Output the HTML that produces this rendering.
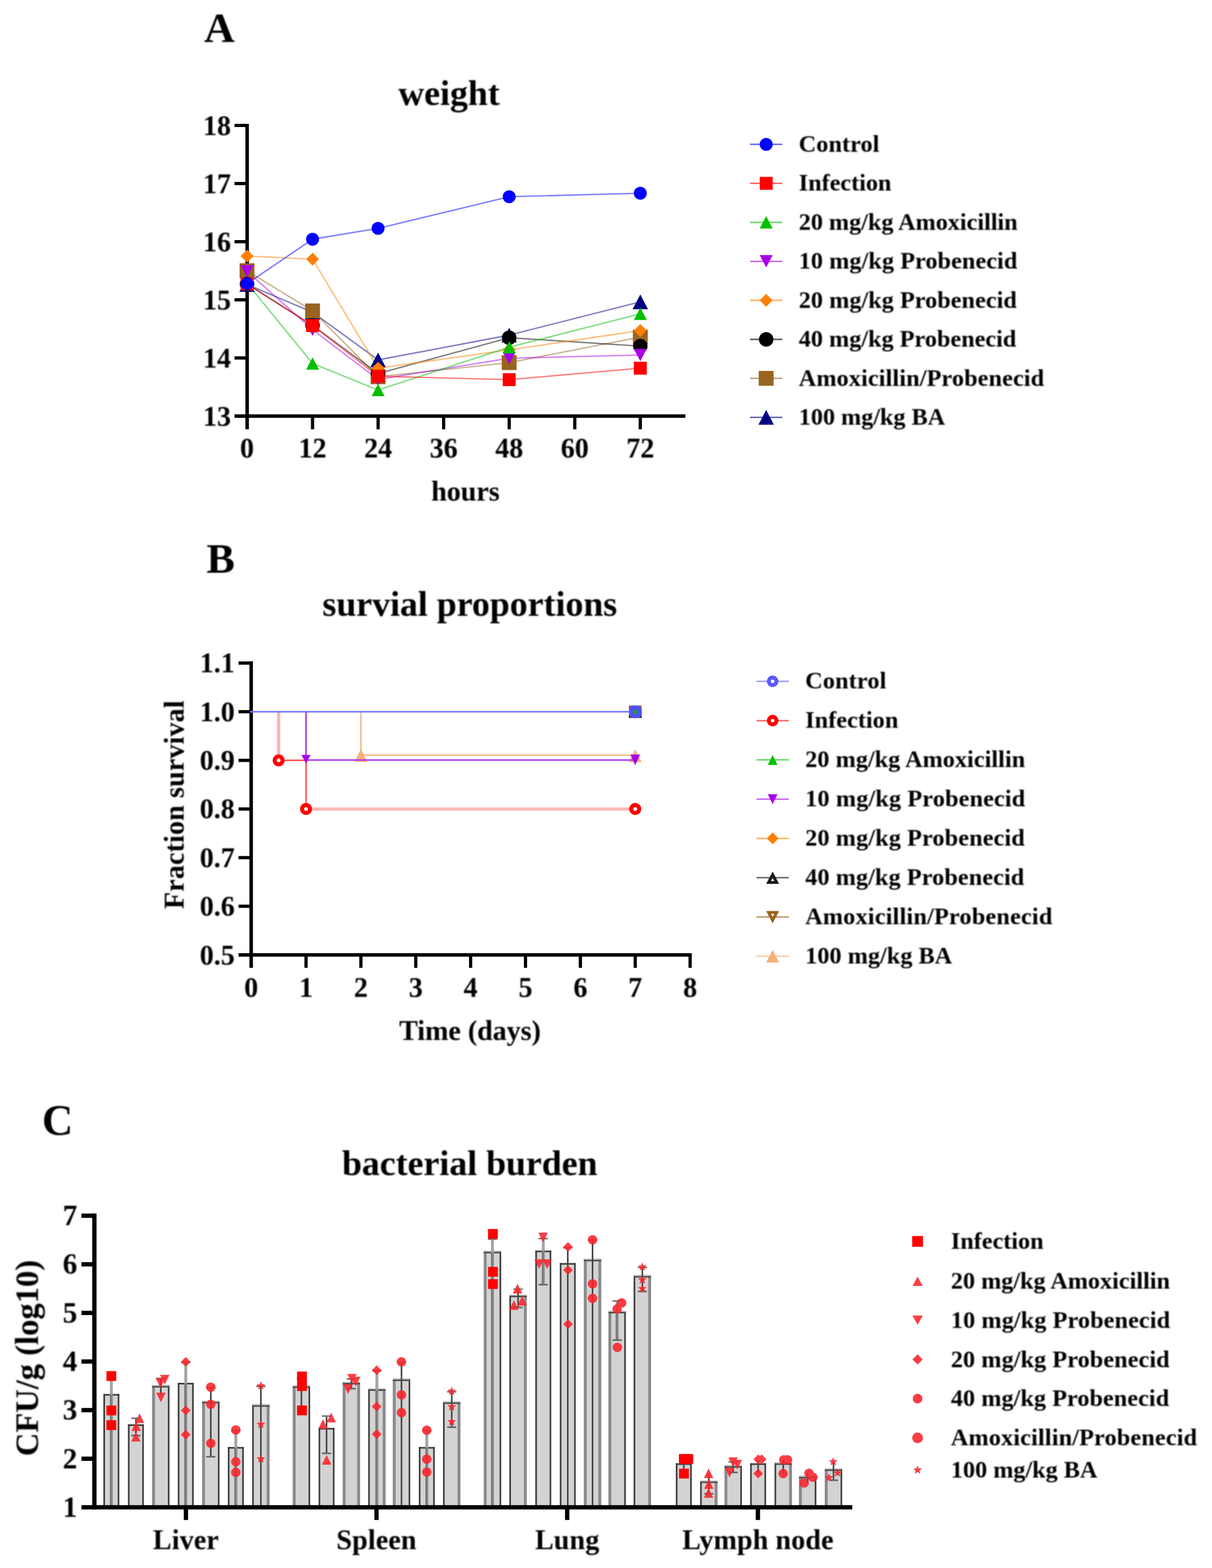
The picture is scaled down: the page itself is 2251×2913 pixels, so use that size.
<!DOCTYPE html>
<html lang="en"><head><meta charset="utf-8"><title>Figure</title>
<style>html,body{margin:0;padding:0;background:#fff}body{width:2251px;height:2913px;overflow:hidden}svg{display:block}text{font-family:"Liberation Serif", "Times New Roman", serif;font-weight:bold;fill:#000}</style></head><body>
<svg width="2251" height="2913" viewBox="0 0 2251 2913" role="img" aria-label="Figure with panels A, B and C">
<defs><filter id="softT" x="0" y="0" width="2251" height="2913" filterUnits="userSpaceOnUse"><feGaussianBlur stdDeviation="0.9"/></filter></defs>
<rect width="2251" height="2913" fill="#fff"/>
<g id="shapes">
<g id="panelA">
<line x1="459" y1="230" x2="459" y2="797.5" stroke="#000" stroke-width="6.5"/>
<line x1="435.5" y1="773" x2="1273" y2="773" stroke="#000" stroke-width="6.5"/>
<line x1="435.5" y1="233" x2="459" y2="233" stroke="#000" stroke-width="6"/>
<line x1="435.5" y1="341" x2="459" y2="341" stroke="#000" stroke-width="6"/>
<line x1="435.5" y1="449" x2="459" y2="449" stroke="#000" stroke-width="6"/>
<line x1="435.5" y1="557" x2="459" y2="557" stroke="#000" stroke-width="6"/>
<line x1="435.5" y1="665" x2="459" y2="665" stroke="#000" stroke-width="6"/>
<line x1="580.5" y1="773" x2="580.5" y2="797.5" stroke="#000" stroke-width="6"/>
<line x1="702.3" y1="773" x2="702.3" y2="797.5" stroke="#000" stroke-width="6"/>
<line x1="824" y1="773" x2="824" y2="797.5" stroke="#000" stroke-width="6"/>
<line x1="945.7" y1="773" x2="945.7" y2="797.5" stroke="#000" stroke-width="6"/>
<line x1="1067.5" y1="773" x2="1067.5" y2="797.5" stroke="#000" stroke-width="6"/>
<line x1="1189.2" y1="773" x2="1189.2" y2="797.5" stroke="#000" stroke-width="6"/>
<polyline points="458.8,528.5 580.5,580 702.2,668.6 945.7,622.6 1189.2,560.8" fill="none" stroke="#000080" stroke-width="2.6" stroke-linejoin="round" stroke-opacity="0.5"/>
<polyline points="458.8,503 580.5,577.6 702.2,700 945.7,673.7 1189.2,626.2" fill="none" stroke="#996420" stroke-width="2.6" stroke-linejoin="round" stroke-opacity="0.5"/>
<polyline points="458.8,527.5 580.5,604.5 702.2,694 945.7,627.4 1189.2,643" fill="none" stroke="#000000" stroke-width="2.6" stroke-linejoin="round" stroke-opacity="0.5"/>
<polyline points="458.8,475.7 580.5,481.5 702.2,684 945.7,650 1189.2,614.1" fill="none" stroke="#ff8000" stroke-width="2.6" stroke-linejoin="round" stroke-opacity="0.5"/>
<polyline points="458.8,504 580.5,612.5 702.2,705 945.7,665.5 1189.2,659.5" fill="none" stroke="#aa00e6" stroke-width="2.6" stroke-linejoin="round" stroke-opacity="0.5"/>
<polyline points="458.8,526 580.5,675.3 702.2,724.6 945.7,645 1189.2,582.9" fill="none" stroke="#00c000" stroke-width="2.6" stroke-linejoin="round" stroke-opacity="0.5"/>
<polyline points="458.8,527.5 580.5,604.8 702.2,699 945.7,705.3 1189.2,684" fill="none" stroke="#ff0000" stroke-width="2.6" stroke-linejoin="round" stroke-opacity="0.5"/>
<polyline points="458.8,527.1 580.5,444.4 702.2,424.3 945.7,365.5 1189.2,359" fill="none" stroke="#0000ff" stroke-width="2.6" stroke-linejoin="round" stroke-opacity="0.5"/>
<polygon points="458.8,514.8 473.1,542.2 444.5,542.2" fill="#000080"/>
<polygon points="580.5,566.3 594.8,593.7 566.2,593.7" fill="#000080"/>
<polygon points="702.2,654.9 716.5,682.3 687.9,682.3" fill="#000080"/>
<polygon points="945.7,608.9 960,636.3 931.4,636.3" fill="#000080"/>
<polygon points="1189.2,547.1 1203.5,574.5 1174.9,574.5" fill="#000080"/>
<rect x="445" y="489.2" width="27.6" height="27.6" fill="#996420"/>
<rect x="566.7" y="563.8" width="27.6" height="27.6" fill="#996420"/>
<rect x="688.4" y="686.2" width="27.6" height="27.6" fill="#996420"/>
<rect x="931.9" y="659.9" width="27.6" height="27.6" fill="#996420"/>
<rect x="1175.4" y="612.4" width="27.6" height="27.6" fill="#996420"/>
<circle cx="458.8" cy="527.5" r="13.5" fill="#000000"/>
<circle cx="580.5" cy="604.5" r="13.5" fill="#000000"/>
<circle cx="702.2" cy="694" r="13.5" fill="#000000"/>
<circle cx="945.7" cy="627.4" r="13.5" fill="#000000"/>
<circle cx="1189.2" cy="643" r="13.5" fill="#000000"/>
<polygon points="458.8,463.7 470.8,475.7 458.8,487.7 446.8,475.7" fill="#ff8000"/>
<polygon points="580.5,469.5 592.5,481.5 580.5,493.5 568.5,481.5" fill="#ff8000"/>
<polygon points="702.2,672 714.2,684 702.2,696 690.2,684" fill="#ff8000"/>
<polygon points="945.7,638 957.7,650 945.7,662 933.7,650" fill="#ff8000"/>
<polygon points="1189.2,602.1 1201.2,614.1 1189.2,626.1 1177.2,614.1" fill="#ff8000"/>
<polygon points="446.8,492.5 470.8,492.5 458.8,515.5" fill="#aa00e6"/>
<polygon points="568.5,601 592.5,601 580.5,624" fill="#aa00e6"/>
<polygon points="690.2,693.5 714.2,693.5 702.2,716.5" fill="#aa00e6"/>
<polygon points="933.7,654 957.7,654 945.7,677" fill="#aa00e6"/>
<polygon points="1177.2,648 1201.2,648 1189.2,671" fill="#aa00e6"/>
<polygon points="458.8,514.5 470.8,537.5 446.8,537.5" fill="#00c000"/>
<polygon points="580.5,663.8 592.5,686.8 568.5,686.8" fill="#00c000"/>
<polygon points="702.2,713.1 714.2,736.1 690.2,736.1" fill="#00c000"/>
<polygon points="945.7,633.5 957.7,656.5 933.7,656.5" fill="#00c000"/>
<polygon points="1189.2,571.4 1201.2,594.4 1177.2,594.4" fill="#00c000"/>
<rect x="446.8" y="515.5" width="24" height="24" fill="#ff0000"/>
<rect x="568.5" y="592.8" width="24" height="24" fill="#ff0000"/>
<rect x="690.2" y="687" width="24" height="24" fill="#ff0000"/>
<rect x="933.7" y="693.3" width="24" height="24" fill="#ff0000"/>
<rect x="1177.2" y="672" width="24" height="24" fill="#ff0000"/>
<circle cx="458.8" cy="527.1" r="12" fill="#0000ff"/>
<circle cx="580.5" cy="444.4" r="12" fill="#0000ff"/>
<circle cx="702.2" cy="424.3" r="12" fill="#0000ff"/>
<circle cx="945.7" cy="365.5" r="12" fill="#0000ff"/>
<circle cx="1189.2" cy="359" r="12" fill="#0000ff"/>
<line x1="1393" y1="268.2" x2="1453" y2="268.2" stroke="#0000ff" stroke-width="2.8" stroke-opacity="0.6"/>
<circle cx="1423" cy="268.2" r="12" fill="#0000ff"/>
<line x1="1393" y1="340.6" x2="1453" y2="340.6" stroke="#ff0000" stroke-width="2.8" stroke-opacity="0.6"/>
<rect x="1411" y="328.6" width="24" height="24" fill="#ff0000"/>
<line x1="1393" y1="413.1" x2="1453" y2="413.1" stroke="#00c000" stroke-width="2.8" stroke-opacity="0.6"/>
<polygon points="1423,401.6 1435,424.6 1411,424.6" fill="#00c000"/>
<line x1="1393" y1="485.6" x2="1453" y2="485.6" stroke="#aa00e6" stroke-width="2.8" stroke-opacity="0.6"/>
<polygon points="1411,474 1435,474 1423,497.1" fill="#aa00e6"/>
<line x1="1393" y1="558" x2="1453" y2="558" stroke="#ff8000" stroke-width="2.8" stroke-opacity="0.6"/>
<polygon points="1423,546 1435,558 1423,570 1411,558" fill="#ff8000"/>
<line x1="1393" y1="630.5" x2="1453" y2="630.5" stroke="#000000" stroke-width="2.8" stroke-opacity="0.6"/>
<circle cx="1423" cy="630.5" r="13.5" fill="#000000"/>
<line x1="1393" y1="702.9" x2="1453" y2="702.9" stroke="#996420" stroke-width="2.8" stroke-opacity="0.6"/>
<rect x="1409.2" y="689.1" width="27.6" height="27.6" fill="#996420"/>
<line x1="1393" y1="775.4" x2="1453" y2="775.4" stroke="#000080" stroke-width="2.8" stroke-opacity="0.6"/>
<polygon points="1423,761.6 1437.3,789.1 1408.7,789.1" fill="#000080"/>
</g>
<g id="panelB">
<line x1="466.5" y1="1228.5" x2="466.5" y2="1798" stroke="#000" stroke-width="6.5"/>
<line x1="443" y1="1774" x2="1284.7" y2="1774" stroke="#000" stroke-width="6.5"/>
<line x1="443" y1="1231.8" x2="466.5" y2="1231.8" stroke="#000" stroke-width="6"/>
<line x1="443" y1="1322.2" x2="466.5" y2="1322.2" stroke="#000" stroke-width="6"/>
<line x1="443" y1="1412.6" x2="466.5" y2="1412.6" stroke="#000" stroke-width="6"/>
<line x1="443" y1="1502.9" x2="466.5" y2="1502.9" stroke="#000" stroke-width="6"/>
<line x1="443" y1="1593.3" x2="466.5" y2="1593.3" stroke="#000" stroke-width="6"/>
<line x1="443" y1="1683.6" x2="466.5" y2="1683.6" stroke="#000" stroke-width="6"/>
<line x1="568.4" y1="1774" x2="568.4" y2="1798" stroke="#000" stroke-width="6"/>
<line x1="670.3" y1="1774" x2="670.3" y2="1798" stroke="#000" stroke-width="6"/>
<line x1="772.2" y1="1774" x2="772.2" y2="1798" stroke="#000" stroke-width="6"/>
<line x1="874.1" y1="1774" x2="874.1" y2="1798" stroke="#000" stroke-width="6"/>
<line x1="976" y1="1774" x2="976" y2="1798" stroke="#000" stroke-width="6"/>
<line x1="1077.9" y1="1774" x2="1077.9" y2="1798" stroke="#000" stroke-width="6"/>
<line x1="1179.8" y1="1774" x2="1179.8" y2="1798" stroke="#000" stroke-width="6"/>
<line x1="1281.7" y1="1774" x2="1281.7" y2="1798" stroke="#000" stroke-width="6"/>
<polyline points="670.3,1322.2 670.3,1403 1179.8,1403" fill="none" stroke="#f2b27c" stroke-width="3" stroke-linejoin="round" stroke-opacity="0.85"/>
<polygon points="670.3,1391.5 682.3,1415.5 658.3,1415.5" fill="#f2b27c"/>
<polygon points="1179.8,1392 1191.8,1416 1167.8,1416" fill="#f2b27c"/>
<line x1="517.5" y1="1322.2" x2="517.5" y2="1412.6" stroke="#ffb4b4" stroke-width="6"/>
<line x1="517.5" y1="1412.6" x2="568.4" y2="1412.6" stroke="#ff5a5a" stroke-width="3"/>
<line x1="568.4" y1="1412.6" x2="568.4" y2="1502.9" stroke="#ff5a5a" stroke-width="3"/>
<line x1="568.4" y1="1502.9" x2="1179.8" y2="1502.9" stroke="#ffb8b8" stroke-width="6"/>
<polyline points="568.4,1322.2 568.4,1412 1179.8,1412" fill="none" stroke="#b03cec" stroke-width="3" stroke-linejoin="round"/>
<polygon points="559.9,1402.5 576.9,1402.5 568.4,1418.5" fill="#aa00e6"/>
<polygon points="1170.8,1401.8 1188.8,1401.8 1179.8,1421.8" fill="#aa00e6"/>
<circle cx="517.5" cy="1412.6" r="7.3" fill="#fff" stroke="#ff0000" stroke-width="7.6"/>
<circle cx="568.4" cy="1502.9" r="7.3" fill="#fff" stroke="#ff0000" stroke-width="7.6"/>
<circle cx="1179.8" cy="1502.9" r="7.3" fill="#fff" stroke="#ff0000" stroke-width="7.6"/>
<polygon points="1179.8,1309.2 1193.3,1322.7 1179.8,1336.2 1166.3,1322.7" fill="#f6c9a0"/>
<rect x="1168" y="1310.7" width="23.6" height="11.5" fill="#996420"/>
<rect x="1168" y="1322.2" width="23.6" height="11.5" fill="#101010"/>
<rect x="1168" y="1311.9" width="23.6" height="21" rx="6" fill="#5252f0"/>
<rect x="1170.8" y="1310.7" width="18" height="23" rx="4" fill="#5252f0"/>
<circle cx="1179.8" cy="1322.7" r="3.6" fill="#10a830"/>
<line x1="464.5" y1="1322.2" x2="1169.8" y2="1322.2" stroke="#7878ff" stroke-width="3"/>
<line x1="1405" y1="1265.8" x2="1465" y2="1265.8" stroke="#5a5aff" stroke-width="2.8" stroke-opacity="0.6"/>
<circle cx="1435" cy="1265.8" r="7" fill="#fff" stroke="#5a5aff" stroke-width="7.4"/>
<line x1="1405" y1="1338.8" x2="1465" y2="1338.8" stroke="#ff0000" stroke-width="2.8" stroke-opacity="0.6"/>
<circle cx="1435" cy="1338.8" r="7" fill="#fff" stroke="#ff0000" stroke-width="7.4"/>
<line x1="1405" y1="1411.7" x2="1465" y2="1411.7" stroke="#00c000" stroke-width="2.8" stroke-opacity="0.6"/>
<polygon points="1435,1402.5 1444,1421 1426,1421" fill="#00c000"/>
<line x1="1405" y1="1484.7" x2="1465" y2="1484.7" stroke="#aa00e6" stroke-width="2.8" stroke-opacity="0.6"/>
<polygon points="1426,1475.4 1444,1475.4 1435,1493.9" fill="#aa00e6"/>
<line x1="1405" y1="1557.6" x2="1465" y2="1557.6" stroke="#ff8000" stroke-width="2.8" stroke-opacity="0.6"/>
<polygon points="1435,1546.6 1446,1557.6 1435,1568.6 1424,1557.6" fill="#ff8000"/>
<line x1="1405" y1="1630.5" x2="1465" y2="1630.5" stroke="#1a1a1a" stroke-width="2.8" stroke-opacity="0.6"/>
<polygon points="1435,1619 1447,1642 1423,1642" fill="#1a1a1a"/>
<polygon points="1435,1631.3 1438,1636.8 1432,1636.8" fill="#fff"/>
<line x1="1405" y1="1703.5" x2="1465" y2="1703.5" stroke="#996420" stroke-width="2.8" stroke-opacity="0.6"/>
<polygon points="1423,1692.5 1447,1692.5 1435,1715.5" fill="#996420"/>
<polygon points="1432,1697.8 1438,1697.8 1435,1703.2" fill="#fff"/>
<line x1="1405" y1="1776.5" x2="1465" y2="1776.5" stroke="#f2b27c" stroke-width="2.8" stroke-opacity="0.6"/>
<polygon points="1435,1765 1447,1788 1423,1788" fill="#f2b27c"/>
</g>
<g id="panelC">
<rect x="193" y="2591.2" width="27.6" height="209.1" fill="#d3d3d3"/>
<line x1="193.5" y1="2589.7" x2="193.5" y2="2800.3" stroke="#3c3c3c" stroke-width="3"/>
<line x1="220.1" y1="2589.7" x2="220.1" y2="2800.3" stroke="#3c3c3c" stroke-width="3"/>
<line x1="192" y1="2591.2" x2="221.6" y2="2591.2" stroke="#3c3c3c" stroke-width="3"/>
<rect x="238.6" y="2647.6" width="27.6" height="152.7" fill="#d3d3d3"/>
<line x1="239.1" y1="2646.1" x2="239.1" y2="2800.3" stroke="#3c3c3c" stroke-width="3"/>
<line x1="265.7" y1="2646.1" x2="265.7" y2="2800.3" stroke="#3c3c3c" stroke-width="3"/>
<line x1="237.6" y1="2647.6" x2="267.2" y2="2647.6" stroke="#3c3c3c" stroke-width="3"/>
<rect x="283.4" y="2576.3" width="30.4" height="224" fill="#d3d3d3"/>
<line x1="282.4" y1="2573.7" x2="314.8" y2="2573.7" stroke="#c9c9c9" stroke-width="2.4"/>
<line x1="285.1" y1="2574.8" x2="285.1" y2="2800.3" stroke="#8a8a8a" stroke-width="5.4"/>
<line x1="313.3" y1="2574.8" x2="313.3" y2="2800.3" stroke="#3c3c3c" stroke-width="3"/>
<line x1="282.4" y1="2576.3" x2="314.8" y2="2576.3" stroke="#505050" stroke-width="3"/>
<rect x="331.2" y="2570.5" width="27.6" height="229.8" fill="#d3d3d3"/>
<line x1="331.7" y1="2569" x2="331.7" y2="2800.3" stroke="#3c3c3c" stroke-width="3"/>
<line x1="358.3" y1="2569" x2="358.3" y2="2800.3" stroke="#3c3c3c" stroke-width="3"/>
<line x1="330.2" y1="2570.5" x2="359.8" y2="2570.5" stroke="#3c3c3c" stroke-width="3"/>
<rect x="376.3" y="2605.7" width="30.4" height="194.6" fill="#d3d3d3"/>
<line x1="375.3" y1="2603.1" x2="407.7" y2="2603.1" stroke="#c9c9c9" stroke-width="2.4"/>
<line x1="378" y1="2604.2" x2="378" y2="2800.3" stroke="#8a8a8a" stroke-width="5.4"/>
<line x1="406.2" y1="2604.2" x2="406.2" y2="2800.3" stroke="#3c3c3c" stroke-width="3"/>
<line x1="375.3" y1="2605.7" x2="407.7" y2="2605.7" stroke="#505050" stroke-width="3"/>
<rect x="424.2" y="2689.7" width="27.6" height="110.6" fill="#d3d3d3"/>
<line x1="424.7" y1="2688.2" x2="424.7" y2="2800.3" stroke="#3c3c3c" stroke-width="3"/>
<line x1="451.3" y1="2688.2" x2="451.3" y2="2800.3" stroke="#3c3c3c" stroke-width="3"/>
<line x1="423.2" y1="2689.7" x2="452.8" y2="2689.7" stroke="#3c3c3c" stroke-width="3"/>
<rect x="469.3" y="2612" width="30.4" height="188.3" fill="#d3d3d3"/>
<line x1="468.3" y1="2609.4" x2="500.7" y2="2609.4" stroke="#c9c9c9" stroke-width="2.4"/>
<line x1="469.8" y1="2610.5" x2="469.8" y2="2800.3" stroke="#3c3c3c" stroke-width="3"/>
<line x1="498" y1="2610.5" x2="498" y2="2800.3" stroke="#8a8a8a" stroke-width="5.4"/>
<line x1="468.3" y1="2612" x2="500.7" y2="2612" stroke="#505050" stroke-width="3"/>
<rect x="544.6" y="2577.1" width="30.4" height="223.2" fill="#d3d3d3"/>
<line x1="543.6" y1="2574.5" x2="576" y2="2574.5" stroke="#c9c9c9" stroke-width="2.4"/>
<line x1="546.3" y1="2575.6" x2="546.3" y2="2800.3" stroke="#8a8a8a" stroke-width="5.4"/>
<line x1="574.5" y1="2575.6" x2="574.5" y2="2800.3" stroke="#3c3c3c" stroke-width="3"/>
<line x1="543.6" y1="2577.1" x2="576" y2="2577.1" stroke="#505050" stroke-width="3"/>
<rect x="592.7" y="2654.2" width="27.6" height="146.1" fill="#d3d3d3"/>
<line x1="593.2" y1="2652.7" x2="593.2" y2="2800.3" stroke="#3c3c3c" stroke-width="3"/>
<line x1="619.8" y1="2652.7" x2="619.8" y2="2800.3" stroke="#3c3c3c" stroke-width="3"/>
<line x1="591.7" y1="2654.2" x2="621.3" y2="2654.2" stroke="#3c3c3c" stroke-width="3"/>
<rect x="637.4" y="2570.6" width="30.4" height="229.7" fill="#d3d3d3"/>
<line x1="636.4" y1="2568" x2="668.8" y2="2568" stroke="#c9c9c9" stroke-width="2.4"/>
<line x1="639.1" y1="2569.1" x2="639.1" y2="2800.3" stroke="#8a8a8a" stroke-width="5.4"/>
<line x1="666.1" y1="2569.1" x2="666.1" y2="2800.3" stroke="#8a8a8a" stroke-width="5.4"/>
<line x1="636.4" y1="2570.6" x2="668.8" y2="2570.6" stroke="#505050" stroke-width="3"/>
<rect x="684.8" y="2582.5" width="30.4" height="217.8" fill="#d3d3d3"/>
<line x1="683.8" y1="2579.9" x2="716.2" y2="2579.9" stroke="#c9c9c9" stroke-width="2.4"/>
<line x1="685.3" y1="2581" x2="685.3" y2="2800.3" stroke="#3c3c3c" stroke-width="3"/>
<line x1="713.5" y1="2581" x2="713.5" y2="2800.3" stroke="#8a8a8a" stroke-width="5.4"/>
<line x1="683.8" y1="2582.5" x2="716.2" y2="2582.5" stroke="#505050" stroke-width="3"/>
<rect x="730.5" y="2564.3" width="30.4" height="236" fill="#d3d3d3"/>
<line x1="729.5" y1="2561.7" x2="761.9" y2="2561.7" stroke="#c9c9c9" stroke-width="2.4"/>
<line x1="732.2" y1="2562.8" x2="732.2" y2="2800.3" stroke="#8a8a8a" stroke-width="5.4"/>
<line x1="760.4" y1="2562.8" x2="760.4" y2="2800.3" stroke="#3c3c3c" stroke-width="3"/>
<line x1="729.5" y1="2564.3" x2="761.9" y2="2564.3" stroke="#505050" stroke-width="3"/>
<rect x="778.9" y="2689.7" width="27.6" height="110.6" fill="#d3d3d3"/>
<line x1="779.4" y1="2688.2" x2="779.4" y2="2800.3" stroke="#3c3c3c" stroke-width="3"/>
<line x1="806" y1="2688.2" x2="806" y2="2800.3" stroke="#3c3c3c" stroke-width="3"/>
<line x1="777.9" y1="2689.7" x2="807.5" y2="2689.7" stroke="#3c3c3c" stroke-width="3"/>
<rect x="823.8" y="2606.8" width="30.4" height="193.5" fill="#d3d3d3"/>
<line x1="822.8" y1="2604.2" x2="855.2" y2="2604.2" stroke="#c9c9c9" stroke-width="2.4"/>
<line x1="824.3" y1="2605.3" x2="824.3" y2="2800.3" stroke="#3c3c3c" stroke-width="3"/>
<line x1="852.5" y1="2605.3" x2="852.5" y2="2800.3" stroke="#8a8a8a" stroke-width="5.4"/>
<line x1="822.8" y1="2606.8" x2="855.2" y2="2606.8" stroke="#505050" stroke-width="3"/>
<rect x="899.4" y="2327.1" width="30.4" height="473.2" fill="#d3d3d3"/>
<line x1="898.4" y1="2324.5" x2="930.8" y2="2324.5" stroke="#c9c9c9" stroke-width="2.4"/>
<line x1="901.1" y1="2325.6" x2="901.1" y2="2800.3" stroke="#8a8a8a" stroke-width="5.4"/>
<line x1="929.3" y1="2325.6" x2="929.3" y2="2800.3" stroke="#3c3c3c" stroke-width="3"/>
<line x1="898.4" y1="2327.1" x2="930.8" y2="2327.1" stroke="#505050" stroke-width="3"/>
<rect x="947" y="2408.6" width="30.4" height="391.7" fill="#d3d3d3"/>
<line x1="946" y1="2406" x2="978.4" y2="2406" stroke="#c9c9c9" stroke-width="2.4"/>
<line x1="947.5" y1="2407.1" x2="947.5" y2="2800.3" stroke="#3c3c3c" stroke-width="3"/>
<line x1="975.7" y1="2407.1" x2="975.7" y2="2800.3" stroke="#8a8a8a" stroke-width="5.4"/>
<line x1="946" y1="2408.6" x2="978.4" y2="2408.6" stroke="#505050" stroke-width="3"/>
<rect x="995.2" y="2324.8" width="27.6" height="475.5" fill="#d3d3d3"/>
<line x1="995.7" y1="2323.3" x2="995.7" y2="2800.3" stroke="#3c3c3c" stroke-width="3"/>
<line x1="1022.3" y1="2323.3" x2="1022.3" y2="2800.3" stroke="#3c3c3c" stroke-width="3"/>
<line x1="994.2" y1="2324.8" x2="1023.8" y2="2324.8" stroke="#3c3c3c" stroke-width="3"/>
<rect x="1040.7" y="2348" width="27.6" height="452.3" fill="#d3d3d3"/>
<line x1="1041.2" y1="2346.5" x2="1041.2" y2="2800.3" stroke="#3c3c3c" stroke-width="3"/>
<line x1="1067.8" y1="2346.5" x2="1067.8" y2="2800.3" stroke="#3c3c3c" stroke-width="3"/>
<line x1="1039.7" y1="2348" x2="1069.3" y2="2348" stroke="#3c3c3c" stroke-width="3"/>
<rect x="1085.3" y="2341.7" width="30.4" height="458.6" fill="#d3d3d3"/>
<line x1="1084.3" y1="2339.1" x2="1116.7" y2="2339.1" stroke="#c9c9c9" stroke-width="2.4"/>
<line x1="1087" y1="2340.2" x2="1087" y2="2800.3" stroke="#8a8a8a" stroke-width="5.4"/>
<line x1="1114" y1="2340.2" x2="1114" y2="2800.3" stroke="#8a8a8a" stroke-width="5.4"/>
<line x1="1084.3" y1="2341.7" x2="1116.7" y2="2341.7" stroke="#505050" stroke-width="3"/>
<rect x="1131" y="2438.6" width="30.4" height="361.7" fill="#d3d3d3"/>
<line x1="1130" y1="2436" x2="1162.4" y2="2436" stroke="#c9c9c9" stroke-width="2.4"/>
<line x1="1132.7" y1="2437.1" x2="1132.7" y2="2800.3" stroke="#8a8a8a" stroke-width="5.4"/>
<line x1="1160.9" y1="2437.1" x2="1160.9" y2="2800.3" stroke="#3c3c3c" stroke-width="3"/>
<line x1="1130" y1="2438.6" x2="1162.4" y2="2438.6" stroke="#505050" stroke-width="3"/>
<rect x="1177.8" y="2372" width="30.4" height="428.3" fill="#d3d3d3"/>
<line x1="1176.8" y1="2369.4" x2="1209.2" y2="2369.4" stroke="#c9c9c9" stroke-width="2.4"/>
<line x1="1178.3" y1="2370.5" x2="1178.3" y2="2800.3" stroke="#3c3c3c" stroke-width="3"/>
<line x1="1206.5" y1="2370.5" x2="1206.5" y2="2800.3" stroke="#8a8a8a" stroke-width="5.4"/>
<line x1="1176.8" y1="2372" x2="1209.2" y2="2372" stroke="#505050" stroke-width="3"/>
<rect x="1256.2" y="2720" width="27.6" height="80.3" fill="#d3d3d3"/>
<line x1="1256.7" y1="2718.5" x2="1256.7" y2="2800.3" stroke="#3c3c3c" stroke-width="3"/>
<line x1="1283.3" y1="2718.5" x2="1283.3" y2="2800.3" stroke="#3c3c3c" stroke-width="3"/>
<line x1="1255.2" y1="2720" x2="1284.8" y2="2720" stroke="#3c3c3c" stroke-width="3"/>
<rect x="1301.3" y="2753.7" width="30.4" height="46.6" fill="#d3d3d3"/>
<line x1="1300.3" y1="2751.1" x2="1332.7" y2="2751.1" stroke="#c9c9c9" stroke-width="2.4"/>
<line x1="1301.8" y1="2752.2" x2="1301.8" y2="2800.3" stroke="#3c3c3c" stroke-width="3"/>
<line x1="1330" y1="2752.2" x2="1330" y2="2800.3" stroke="#8a8a8a" stroke-width="5.4"/>
<line x1="1300.3" y1="2753.7" x2="1332.7" y2="2753.7" stroke="#505050" stroke-width="3"/>
<rect x="1346.5" y="2725.3" width="30.4" height="75" fill="#d3d3d3"/>
<line x1="1345.5" y1="2722.7" x2="1377.9" y2="2722.7" stroke="#c9c9c9" stroke-width="2.4"/>
<line x1="1348.2" y1="2723.8" x2="1348.2" y2="2800.3" stroke="#8a8a8a" stroke-width="5.4"/>
<line x1="1376.4" y1="2723.8" x2="1376.4" y2="2800.3" stroke="#3c3c3c" stroke-width="3"/>
<line x1="1345.5" y1="2725.3" x2="1377.9" y2="2725.3" stroke="#505050" stroke-width="3"/>
<rect x="1394.2" y="2720" width="27.6" height="80.3" fill="#d3d3d3"/>
<line x1="1394.7" y1="2718.5" x2="1394.7" y2="2800.3" stroke="#3c3c3c" stroke-width="3"/>
<line x1="1421.3" y1="2718.5" x2="1421.3" y2="2800.3" stroke="#3c3c3c" stroke-width="3"/>
<line x1="1393.2" y1="2720" x2="1422.8" y2="2720" stroke="#3c3c3c" stroke-width="3"/>
<rect x="1439.5" y="2720" width="30.4" height="80.3" fill="#d3d3d3"/>
<line x1="1438.5" y1="2717.4" x2="1470.9" y2="2717.4" stroke="#c9c9c9" stroke-width="2.4"/>
<line x1="1440" y1="2718.5" x2="1440" y2="2800.3" stroke="#3c3c3c" stroke-width="3"/>
<line x1="1468.2" y1="2718.5" x2="1468.2" y2="2800.3" stroke="#8a8a8a" stroke-width="5.4"/>
<line x1="1438.5" y1="2720" x2="1470.9" y2="2720" stroke="#505050" stroke-width="3"/>
<rect x="1484.8" y="2745" width="30.4" height="55.3" fill="#d3d3d3"/>
<line x1="1483.8" y1="2742.4" x2="1516.2" y2="2742.4" stroke="#c9c9c9" stroke-width="2.4"/>
<line x1="1486.5" y1="2743.5" x2="1486.5" y2="2800.3" stroke="#8a8a8a" stroke-width="5.4"/>
<line x1="1514.7" y1="2743.5" x2="1514.7" y2="2800.3" stroke="#3c3c3c" stroke-width="3"/>
<line x1="1483.8" y1="2745" x2="1516.2" y2="2745" stroke="#505050" stroke-width="3"/>
<rect x="1532.8" y="2731.2" width="30.4" height="69.1" fill="#d3d3d3"/>
<line x1="1531.8" y1="2728.6" x2="1564.2" y2="2728.6" stroke="#c9c9c9" stroke-width="2.4"/>
<line x1="1534.5" y1="2729.7" x2="1534.5" y2="2800.3" stroke="#8a8a8a" stroke-width="5.4"/>
<line x1="1562.7" y1="2729.7" x2="1562.7" y2="2800.3" stroke="#3c3c3c" stroke-width="3"/>
<line x1="1531.8" y1="2731.2" x2="1564.2" y2="2731.2" stroke="#505050" stroke-width="3"/>
<line x1="206.8" y1="2557" x2="206.8" y2="2591.2" stroke="#a4a4a4" stroke-width="5.4"/>
<line x1="206.8" y1="2591.2" x2="206.8" y2="2800.3" stroke="#8a8a8a" stroke-width="5.4"/>
<line x1="205.5" y1="2591.2" x2="205.5" y2="2800.3" stroke="#777" stroke-width="2.6"/>
<line x1="198.1" y1="2558" x2="215.5" y2="2558" stroke="#777" stroke-width="3"/>
<line x1="252.4" y1="2634.8" x2="252.4" y2="2667" stroke="#484848" stroke-width="3"/>
<line x1="243.7" y1="2634.8" x2="261.1" y2="2634.8" stroke="#777" stroke-width="3"/>
<line x1="243.9" y1="2667" x2="260.9" y2="2667" stroke="#666" stroke-width="3"/>
<line x1="298.6" y1="2561" x2="298.6" y2="2591" stroke="#484848" stroke-width="3"/>
<line x1="289.9" y1="2561" x2="307.3" y2="2561" stroke="#777" stroke-width="3"/>
<line x1="345" y1="2530" x2="345" y2="2570.5" stroke="#a4a4a4" stroke-width="5.4"/>
<line x1="345" y1="2570.5" x2="345" y2="2800.3" stroke="#8a8a8a" stroke-width="5.4"/>
<line x1="343.7" y1="2570.5" x2="343.7" y2="2800.3" stroke="#777" stroke-width="2.6"/>
<line x1="336.3" y1="2531" x2="353.7" y2="2531" stroke="#777" stroke-width="3"/>
<line x1="391.5" y1="2577" x2="391.5" y2="2706.3" stroke="#484848" stroke-width="3"/>
<line x1="382.8" y1="2578" x2="400.2" y2="2578" stroke="#777" stroke-width="3"/>
<line x1="383" y1="2706.3" x2="400" y2="2706.3" stroke="#666" stroke-width="3"/>
<line x1="438" y1="2656.5" x2="438" y2="2689.7" stroke="#a4a4a4" stroke-width="5.4"/>
<line x1="438" y1="2689.7" x2="438" y2="2800.3" stroke="#8a8a8a" stroke-width="5.4"/>
<line x1="436.7" y1="2689.7" x2="436.7" y2="2800.3" stroke="#777" stroke-width="2.6"/>
<line x1="429.3" y1="2657.5" x2="446.7" y2="2657.5" stroke="#777" stroke-width="3"/>
<line x1="484.5" y1="2574.6" x2="484.5" y2="2800.3" stroke="#484848" stroke-width="3"/>
<line x1="475.8" y1="2575.6" x2="493.2" y2="2575.6" stroke="#777" stroke-width="3"/>
<line x1="559.8" y1="2560" x2="559.8" y2="2612" stroke="#484848" stroke-width="3"/>
<line x1="551.1" y1="2561" x2="568.5" y2="2561" stroke="#777" stroke-width="3"/>
<line x1="606.5" y1="2630.8" x2="606.5" y2="2700" stroke="#484848" stroke-width="3"/>
<line x1="597.8" y1="2630.8" x2="615.2" y2="2630.8" stroke="#777" stroke-width="3"/>
<line x1="598" y1="2700" x2="615" y2="2700" stroke="#666" stroke-width="3"/>
<line x1="652.6" y1="2561.8" x2="652.6" y2="2579.8" stroke="#484848" stroke-width="3"/>
<line x1="643.9" y1="2561.8" x2="661.3" y2="2561.8" stroke="#777" stroke-width="3"/>
<line x1="644.1" y1="2579.8" x2="661.1" y2="2579.8" stroke="#666" stroke-width="3"/>
<line x1="700" y1="2545.6" x2="700" y2="2582.5" stroke="#a4a4a4" stroke-width="5.4"/>
<line x1="700" y1="2582.5" x2="700" y2="2800.3" stroke="#8a8a8a" stroke-width="5.4"/>
<line x1="698.7" y1="2582.5" x2="698.7" y2="2800.3" stroke="#777" stroke-width="2.6"/>
<line x1="691.3" y1="2546.6" x2="708.7" y2="2546.6" stroke="#777" stroke-width="3"/>
<line x1="745.7" y1="2530" x2="745.7" y2="2800.3" stroke="#484848" stroke-width="3"/>
<line x1="737" y1="2531" x2="754.4" y2="2531" stroke="#777" stroke-width="3"/>
<line x1="792.7" y1="2657" x2="792.7" y2="2689.7" stroke="#a4a4a4" stroke-width="5.4"/>
<line x1="792.7" y1="2689.7" x2="792.7" y2="2800.3" stroke="#8a8a8a" stroke-width="5.4"/>
<line x1="791.4" y1="2689.7" x2="791.4" y2="2800.3" stroke="#777" stroke-width="2.6"/>
<line x1="784" y1="2658" x2="801.4" y2="2658" stroke="#777" stroke-width="3"/>
<line x1="839" y1="2584.6" x2="839" y2="2651.4" stroke="#484848" stroke-width="3"/>
<line x1="830.3" y1="2585.6" x2="847.7" y2="2585.6" stroke="#777" stroke-width="3"/>
<line x1="830.5" y1="2651.4" x2="847.5" y2="2651.4" stroke="#666" stroke-width="3"/>
<line x1="914.6" y1="2301" x2="914.6" y2="2327.1" stroke="#a4a4a4" stroke-width="5.4"/>
<line x1="914.6" y1="2327.1" x2="914.6" y2="2800.3" stroke="#8a8a8a" stroke-width="5.4"/>
<line x1="913.3" y1="2327.1" x2="913.3" y2="2800.3" stroke="#777" stroke-width="2.6"/>
<line x1="905.9" y1="2302" x2="923.3" y2="2302" stroke="#777" stroke-width="3"/>
<line x1="962.2" y1="2394" x2="962.2" y2="2429" stroke="#484848" stroke-width="3"/>
<line x1="953.5" y1="2395" x2="970.9" y2="2395" stroke="#777" stroke-width="3"/>
<line x1="953.7" y1="2429" x2="970.7" y2="2429" stroke="#666" stroke-width="3"/>
<line x1="1009" y1="2301" x2="1009" y2="2324.8" stroke="#a4a4a4" stroke-width="5.4"/>
<line x1="1009" y1="2324.8" x2="1009" y2="2386.6" stroke="#8a8a8a" stroke-width="5.4"/>
<line x1="1007.7" y1="2324.8" x2="1007.7" y2="2386.6" stroke="#777" stroke-width="2.6"/>
<line x1="1000.3" y1="2301" x2="1017.7" y2="2301" stroke="#777" stroke-width="3"/>
<line x1="1000.5" y1="2386.6" x2="1017.5" y2="2386.6" stroke="#666" stroke-width="3"/>
<line x1="1054.5" y1="2317" x2="1054.5" y2="2800.3" stroke="#484848" stroke-width="3"/>
<line x1="1045.8" y1="2318" x2="1063.2" y2="2318" stroke="#777" stroke-width="3"/>
<line x1="1100.5" y1="2303" x2="1100.5" y2="2800.3" stroke="#484848" stroke-width="3"/>
<line x1="1091.8" y1="2304" x2="1109.2" y2="2304" stroke="#777" stroke-width="3"/>
<line x1="1146.2" y1="2417" x2="1146.2" y2="2438.6" stroke="#a4a4a4" stroke-width="5.4"/>
<line x1="1146.2" y1="2438.6" x2="1146.2" y2="2489.6" stroke="#8a8a8a" stroke-width="5.4"/>
<line x1="1144.9" y1="2438.6" x2="1144.9" y2="2489.6" stroke="#777" stroke-width="2.6"/>
<line x1="1137.5" y1="2417" x2="1154.9" y2="2417" stroke="#777" stroke-width="3"/>
<line x1="1137.7" y1="2489.6" x2="1154.7" y2="2489.6" stroke="#666" stroke-width="3"/>
<line x1="1193" y1="2353.7" x2="1193" y2="2399.3" stroke="#484848" stroke-width="3"/>
<line x1="1184.3" y1="2354.7" x2="1201.7" y2="2354.7" stroke="#777" stroke-width="3"/>
<line x1="1184.5" y1="2399.3" x2="1201.5" y2="2399.3" stroke="#666" stroke-width="3"/>
<line x1="1270" y1="2712" x2="1270" y2="2730" stroke="#484848" stroke-width="3"/>
<line x1="1316.5" y1="2737" x2="1316.5" y2="2775" stroke="#484848" stroke-width="3"/>
<line x1="1308" y1="2775" x2="1325" y2="2775" stroke="#666" stroke-width="3"/>
<line x1="1361.7" y1="2716" x2="1361.7" y2="2735.5" stroke="#484848" stroke-width="3"/>
<line x1="1353" y1="2716" x2="1370.4" y2="2716" stroke="#777" stroke-width="3"/>
<line x1="1353.2" y1="2735.5" x2="1370.2" y2="2735.5" stroke="#666" stroke-width="3"/>
<line x1="1408" y1="2712" x2="1408" y2="2737" stroke="#484848" stroke-width="3"/>
<line x1="1454.7" y1="2712" x2="1454.7" y2="2737" stroke="#484848" stroke-width="3"/>
<line x1="1500" y1="2736" x2="1500" y2="2755" stroke="#484848" stroke-width="3"/>
<line x1="1548" y1="2715.8" x2="1548" y2="2750" stroke="#484848" stroke-width="3"/>
<line x1="1539.5" y1="2750" x2="1556.5" y2="2750" stroke="#666" stroke-width="3"/>
<g>
<rect x="197.7" y="2547.3" width="18.2" height="18.2" fill="#ff0000"/>
<rect x="197.7" y="2611.2" width="18.2" height="18.2" fill="#ff0000"/>
<rect x="197.7" y="2638.5" width="18.2" height="18.2" fill="#ff0000"/>
</g>
<g opacity="0.88">
<polygon points="259.2,2625.8 267.9,2643.8 250.4,2643.8" fill="#fa242c"/>
<polygon points="253,2640.5 261.8,2658.5 244.2,2658.5" fill="#fa242c"/>
<polygon points="252.5,2660 261.2,2678 243.8,2678" fill="#fa242c"/>
</g>
<g opacity="0.88">
<polygon points="297.2,2554.2 314.8,2554.2 306,2572.2" fill="#fa242c"/>
<polygon points="289.2,2560.3 306.8,2560.3 298,2578.3" fill="#fa242c"/>
<polygon points="290.1,2587.3 307.6,2587.3 298.8,2605.3" fill="#fa242c"/>
</g>
<g opacity="0.88">
<polygon points="345,2521 354,2530 345,2539 336,2530" fill="#fa242c"/>
<polygon points="345,2611.3 354,2620.3 345,2629.3 336,2620.3" fill="#fa242c"/>
<polygon points="345,2656.2 354,2665.2 345,2674.2 336,2665.2" fill="#fa242c"/>
</g>
<g opacity="0.88">
<circle cx="391.5" cy="2577" r="8.8" fill="#fa242c"/>
<circle cx="391.5" cy="2608.9" r="8.8" fill="#fa242c"/>
<circle cx="391.5" cy="2681.4" r="8.8" fill="#fa242c"/>
</g>
<g opacity="0.88">
<circle cx="438" cy="2656.5" r="8.8" fill="#fa242c"/>
<circle cx="438" cy="2715.6" r="8.8" fill="#fa242c"/>
<circle cx="438" cy="2735.3" r="8.8" fill="#fa242c"/>
</g>
<g opacity="0.88">
<polygon points="484.5,2566.1 486.7,2571.5 492.6,2572 488.1,2575.8 489.5,2581.5 484.5,2578.4 479.5,2581.5 480.9,2575.8 476.4,2572 482.3,2571.5" fill="#fa242c"/>
<polygon points="484.5,2637.7 486.7,2643.1 492.6,2643.6 488.1,2647.4 489.5,2653.1 484.5,2650 479.5,2653.1 480.9,2647.4 476.4,2643.6 482.3,2643.1" fill="#fa242c"/>
<polygon points="484.5,2701.9 486.7,2707.3 492.6,2707.8 488.1,2711.6 489.5,2717.3 484.5,2714.2 479.5,2717.3 480.9,2711.6 476.4,2707.8 482.3,2707.3" fill="#fa242c"/>
</g>
<g>
<rect x="551.7" y="2548" width="18.2" height="18.2" fill="#ff0000"/>
<rect x="551.7" y="2565.9" width="18.2" height="18.2" fill="#ff0000"/>
<rect x="551.7" y="2611.1" width="18.2" height="18.2" fill="#ff0000"/>
</g>
<g opacity="0.88">
<polygon points="615.2,2624.4 624,2642.4 606.5,2642.4" fill="#fa242c"/>
<polygon points="600,2636.6 608.8,2654.6 591.2,2654.6" fill="#fa242c"/>
<polygon points="606.6,2703 615.4,2721 597.9,2721" fill="#fa242c"/>
</g>
<g opacity="0.88">
<polygon points="645,2552.4 662.5,2552.4 653.8,2570.4" fill="#fa242c"/>
<polygon points="651.9,2557.7 669.4,2557.7 660.6,2575.7" fill="#fa242c"/>
<polygon points="637.8,2571.8 655.2,2571.8 646.5,2589.8" fill="#fa242c"/>
</g>
<g opacity="0.88">
<polygon points="699.6,2536.6 708.6,2545.6 699.6,2554.6 690.6,2545.6" fill="#fa242c"/>
<polygon points="699.6,2604 708.6,2613 699.6,2622 690.6,2613" fill="#fa242c"/>
<polygon points="699.6,2655.2 708.6,2664.2 699.6,2673.2 690.6,2664.2" fill="#fa242c"/>
</g>
<g opacity="0.88">
<circle cx="745.6" cy="2530" r="8.8" fill="#fa242c"/>
<circle cx="745.6" cy="2591.2" r="8.8" fill="#fa242c"/>
<circle cx="745.6" cy="2624.4" r="8.8" fill="#fa242c"/>
</g>
<g opacity="0.88">
<circle cx="792.6" cy="2657" r="8.8" fill="#fa242c"/>
<circle cx="792.6" cy="2710.9" r="8.8" fill="#fa242c"/>
<circle cx="792.6" cy="2734.7" r="8.8" fill="#fa242c"/>
</g>
<g opacity="0.88">
<polygon points="838.9,2576.1 841.1,2581.5 847,2582 842.5,2585.8 843.9,2591.5 838.9,2588.4 833.9,2591.5 835.3,2585.8 830.8,2582 836.7,2581.5" fill="#fa242c"/>
<polygon points="838.9,2605.1 841.1,2610.5 847,2611 842.5,2614.8 843.9,2620.5 838.9,2617.4 833.9,2620.5 835.3,2614.8 830.8,2611 836.7,2610.5" fill="#fa242c"/>
<polygon points="838.9,2632.9 841.1,2638.3 847,2638.8 842.5,2642.6 843.9,2648.3 838.9,2645.2 833.9,2648.3 835.3,2642.6 830.8,2638.8 836.7,2638.3" fill="#fa242c"/>
</g>
<g>
<rect x="906.4" y="2283.2" width="18.2" height="18.2" fill="#ff0000"/>
<rect x="906.4" y="2353.6" width="18.2" height="18.2" fill="#ff0000"/>
<rect x="906.4" y="2376.4" width="18.2" height="18.2" fill="#ff0000"/>
</g>
<g opacity="0.88">
<polygon points="961.1,2385 969.9,2403 952.4,2403" fill="#fa242c"/>
<polygon points="969.6,2407.6 978.4,2425.6 960.9,2425.6" fill="#fa242c"/>
<polygon points="954.5,2415.6 963.2,2433.6 945.8,2433.6" fill="#fa242c"/>
</g>
<g opacity="0.88">
<polygon points="1000,2289.9 1017.5,2289.9 1008.7,2307.9" fill="#fa242c"/>
<polygon points="992.5,2339.4 1010,2339.4 1001.3,2357.4" fill="#fa242c"/>
<polygon points="1007.5,2339.4 1025,2339.4 1016.2,2357.4" fill="#fa242c"/>
</g>
<g opacity="0.88">
<polygon points="1055,2307.5 1064,2316.5 1055,2325.5 1046,2316.5" fill="#fa242c"/>
<polygon points="1055,2350.5 1064,2359.5 1055,2368.5 1046,2359.5" fill="#fa242c"/>
<polygon points="1055,2451 1064,2460 1055,2469 1046,2460" fill="#fa242c"/>
</g>
<g opacity="0.88">
<circle cx="1100.5" cy="2303.2" r="8.8" fill="#fa242c"/>
<circle cx="1100.5" cy="2385" r="8.8" fill="#fa242c"/>
<circle cx="1100.5" cy="2412" r="8.8" fill="#fa242c"/>
</g>
<g opacity="0.88">
<circle cx="1154.5" cy="2420.5" r="8.8" fill="#fa242c"/>
<circle cx="1146.2" cy="2431.6" r="8.8" fill="#fa242c"/>
<circle cx="1146.6" cy="2503" r="8.8" fill="#fa242c"/>
</g>
<g opacity="0.88">
<polygon points="1193,2345.2 1195.2,2350.6 1201.1,2351.1 1196.6,2354.9 1198,2360.6 1193,2357.5 1188,2360.6 1189.4,2354.9 1184.9,2351.1 1190.8,2350.6" fill="#fa242c"/>
<polygon points="1193,2369.1 1195.2,2374.5 1201.1,2375 1196.6,2378.8 1198,2384.5 1193,2381.4 1188,2384.5 1189.4,2378.8 1184.9,2375 1190.8,2374.5" fill="#fa242c"/>
<polygon points="1193,2385.5 1195.2,2390.9 1201.1,2391.4 1196.6,2395.2 1198,2400.9 1193,2397.8 1188,2400.9 1189.4,2395.2 1184.9,2391.4 1190.8,2390.9" fill="#fa242c"/>
</g>
<g>
<rect x="1260.9" y="2701.3" width="18.2" height="18.2" fill="#ff0000"/>
<rect x="1269.2" y="2701.3" width="18.2" height="18.2" fill="#ff0000"/>
<rect x="1261.2" y="2728.5" width="18.2" height="18.2" fill="#ff0000"/>
</g>
<g opacity="0.88">
<polygon points="1316,2728 1324.8,2746 1307.2,2746" fill="#fa242c"/>
<polygon points="1316.5,2748 1325.2,2766 1307.8,2766" fill="#fa242c"/>
<polygon points="1316,2764.5 1324.8,2782.5 1307.2,2782.5" fill="#fa242c"/>
</g>
<g opacity="0.88">
<polygon points="1352.8,2707.5 1370.2,2707.5 1361.5,2725.5" fill="#fa242c"/>
<polygon points="1360.8,2712 1378.2,2712 1369.5,2730" fill="#fa242c"/>
<polygon points="1346.2,2727 1363.8,2727 1355,2745" fill="#fa242c"/>
</g>
<g opacity="0.88">
<polygon points="1408.3,2702 1417.3,2711 1408.3,2720 1399.3,2711" fill="#fa242c"/>
<polygon points="1414.6,2702 1423.6,2711 1414.6,2720 1405.6,2711" fill="#fa242c"/>
<polygon points="1408.2,2728.6 1417.2,2737.6 1408.2,2746.6 1399.2,2737.6" fill="#fa242c"/>
</g>
<g opacity="0.88">
<circle cx="1455.7" cy="2712" r="8.8" fill="#fa242c"/>
<circle cx="1462.6" cy="2712" r="8.8" fill="#fa242c"/>
<circle cx="1454.6" cy="2737.6" r="8.8" fill="#fa242c"/>
</g>
<g opacity="0.88">
<circle cx="1502.5" cy="2737" r="8.8" fill="#fa242c"/>
<circle cx="1509.6" cy="2744.3" r="8.8" fill="#fa242c"/>
<circle cx="1493.5" cy="2755" r="8.8" fill="#fa242c"/>
</g>
<g opacity="0.88">
<polygon points="1547.5,2707 1549.7,2712.4 1555.6,2712.9 1551.1,2716.7 1552.5,2722.4 1547.5,2719.3 1542.5,2722.4 1543.9,2716.7 1539.4,2712.9 1545.3,2712.4" fill="#fa242c"/>
<polygon points="1555.6,2728 1557.8,2733.4 1563.7,2733.9 1559.2,2737.7 1560.6,2743.4 1555.6,2740.3 1550.6,2743.4 1552,2737.7 1547.5,2733.9 1553.4,2733.4" fill="#fa242c"/>
<polygon points="1539.6,2736.5 1541.8,2741.9 1547.7,2742.4 1543.2,2746.2 1544.6,2751.9 1539.6,2748.8 1534.6,2751.9 1536,2746.2 1531.5,2742.4 1537.4,2741.9" fill="#fa242c"/>
</g>
<line x1="175.3" y1="2254.5" x2="175.3" y2="2804.3" stroke="#000" stroke-width="8"/>
<line x1="151.3" y1="2800.3" x2="1583" y2="2800.3" stroke="#000" stroke-width="8"/>
<line x1="151.3" y1="2258.5" x2="175.3" y2="2258.5" stroke="#000" stroke-width="8"/>
<line x1="151.3" y1="2348.8" x2="175.3" y2="2348.8" stroke="#000" stroke-width="8"/>
<line x1="151.3" y1="2439.1" x2="175.3" y2="2439.1" stroke="#000" stroke-width="8"/>
<line x1="151.3" y1="2529.4" x2="175.3" y2="2529.4" stroke="#000" stroke-width="8"/>
<line x1="151.3" y1="2619.7" x2="175.3" y2="2619.7" stroke="#000" stroke-width="8"/>
<line x1="151.3" y1="2710" x2="175.3" y2="2710" stroke="#000" stroke-width="8"/>
<line x1="345.3" y1="2800.3" x2="345.3" y2="2823.8" stroke="#000" stroke-width="8"/>
<line x1="699.3" y1="2800.3" x2="699.3" y2="2823.8" stroke="#000" stroke-width="8"/>
<line x1="1053.4" y1="2800.3" x2="1053.4" y2="2823.8" stroke="#000" stroke-width="8"/>
<line x1="1407.6" y1="2800.3" x2="1407.6" y2="2823.8" stroke="#000" stroke-width="8"/>
<rect x="1694.2" y="2296.3" width="20" height="20" fill="#ff0000"/>
<polygon points="1704.2,2371.8 1713.7,2388.9 1694.7,2388.9" fill="#fa3e45"/>
<polygon points="1694.7,2444 1713.7,2444 1704.2,2461.2" fill="#fa3e45"/>
<polygon points="1704.2,2516 1713.7,2525.5 1704.2,2535 1694.7,2525.5" fill="#fa3e45"/>
<circle cx="1704.2" cy="2598.3" r="9" fill="#fa3e45"/>
<circle cx="1704.2" cy="2671.2" r="10" fill="#fa3e45"/>
<polygon points="1704.2,2722.5 1706.4,2727.9 1712.3,2728.4 1707.8,2732.2 1709.2,2737.9 1704.2,2734.8 1699.2,2737.9 1700.6,2732.2 1696.1,2728.4 1702,2727.9" fill="#fa3e45"/>
</g>
</g>
<g filter="url(#softT)">
<text x="379" y="77.5" font-size="79" text-anchor="start">A</text>
<text x="834" y="194.5" font-size="66.5" text-anchor="middle">weight</text>
<text x="429" y="250.5" font-size="52" text-anchor="end">18</text>
<text x="429" y="358.5" font-size="52" text-anchor="end">17</text>
<text x="429" y="466.5" font-size="52" text-anchor="end">16</text>
<text x="429" y="574.5" font-size="52" text-anchor="end">15</text>
<text x="429" y="682.5" font-size="52" text-anchor="end">14</text>
<text x="429" y="790.5" font-size="52" text-anchor="end">13</text>
<text x="458.8" y="850" font-size="52" text-anchor="middle">0</text>
<text x="580.5" y="850" font-size="52" text-anchor="middle">12</text>
<text x="702.3" y="850" font-size="52" text-anchor="middle">24</text>
<text x="824" y="850" font-size="52" text-anchor="middle">36</text>
<text x="945.7" y="850" font-size="52" text-anchor="middle">48</text>
<text x="1067.5" y="850" font-size="52" text-anchor="middle">60</text>
<text x="1189.2" y="850" font-size="52" text-anchor="middle">72</text>
<text x="864.5" y="930" font-size="52" text-anchor="middle">hours</text>
<text x="1483.5" y="281.8" font-size="44.9" text-anchor="start" letter-spacing="0.15">Control</text>
<text x="1483.5" y="354.2" font-size="44.9" text-anchor="start">Infection</text>
<text x="1483.5" y="426.7" font-size="44.9" text-anchor="start">20 mg/kg Amoxicillin</text>
<text x="1483.5" y="499.2" font-size="44.9" text-anchor="start" letter-spacing="0.15">10 mg/kg Probenecid</text>
<text x="1483.5" y="571.6" font-size="44.9" text-anchor="start" letter-spacing="0.10">20 mg/kg Probenecid</text>
<text x="1483.5" y="644.1" font-size="44.9" text-anchor="start" letter-spacing="0.05">40 mg/kg Probenecid</text>
<text x="1483.5" y="716.5" font-size="44.9" text-anchor="start" letter-spacing="0.25">Amoxicillin/Probenecid</text>
<text x="1483.5" y="789" font-size="44.9" text-anchor="start">100 mg/kg BA</text>
<text x="383.5" y="1063.5" font-size="79" text-anchor="start">B</text>
<text x="872.5" y="1143.8" font-size="66.5" text-anchor="middle">survial proportions</text>
<text x="436" y="1249.3" font-size="52" text-anchor="end">1.1</text>
<text x="436" y="1339.7" font-size="52" text-anchor="end">1.0</text>
<text x="436" y="1430.1" font-size="52" text-anchor="end">0.9</text>
<text x="436" y="1520.4" font-size="52" text-anchor="end">0.8</text>
<text x="436" y="1610.8" font-size="52" text-anchor="end">0.7</text>
<text x="436" y="1701.1" font-size="52" text-anchor="end">0.6</text>
<text x="436" y="1791.5" font-size="52" text-anchor="end">0.5</text>
<text x="466.5" y="1852.3" font-size="52" text-anchor="middle">0</text>
<text x="568.4" y="1852.3" font-size="52" text-anchor="middle">1</text>
<text x="670.3" y="1852.3" font-size="52" text-anchor="middle">2</text>
<text x="772.2" y="1852.3" font-size="52" text-anchor="middle">3</text>
<text x="874.1" y="1852.3" font-size="52" text-anchor="middle">4</text>
<text x="976" y="1852.3" font-size="52" text-anchor="middle">5</text>
<text x="1077.9" y="1852.3" font-size="52" text-anchor="middle">6</text>
<text x="1179.8" y="1852.3" font-size="52" text-anchor="middle">7</text>
<text x="1281.7" y="1852.3" font-size="52" text-anchor="middle">8</text>
<text x="873" y="1932" font-size="52" text-anchor="middle">Time (days)</text>
<text x="341.5" y="1494.8" font-size="52" text-anchor="middle" transform="rotate(-90 341.5 1494.8)" letter-spacing="0.3">Fraction survival</text>
<text x="1495.5" y="1279.4" font-size="44.9" text-anchor="start" letter-spacing="0.30">Control</text>
<text x="1495.5" y="1352.3" font-size="44.9" text-anchor="start" letter-spacing="0.10">Infection</text>
<text x="1495.5" y="1425.3" font-size="44.9" text-anchor="start" letter-spacing="0.10">20 mg/kg Amoxicillin</text>
<text x="1495.5" y="1498.2" font-size="44.9" text-anchor="start" letter-spacing="0.30">10 mg/kg Probenecid</text>
<text x="1495.5" y="1571.2" font-size="44.9" text-anchor="start" letter-spacing="0.25">20 mg/kg Probenecid</text>
<text x="1495.5" y="1644.1" font-size="44.9" text-anchor="start" letter-spacing="0.20">40 mg/kg Probenecid</text>
<text x="1495.5" y="1717.1" font-size="44.9" text-anchor="start" letter-spacing="0.40">Amoxicillin/Probenecid</text>
<text x="1495.5" y="1790" font-size="44.9" text-anchor="start" letter-spacing="0.10">100 mg/kg BA</text>
<text x="78" y="2108" font-size="80" text-anchor="start">C</text>
<text x="872.5" y="2183" font-size="66.5" text-anchor="middle">bacterial burden</text>
<text x="143.5" y="2276.1" font-size="54" text-anchor="end">7</text>
<text x="143.5" y="2366.4" font-size="54" text-anchor="end">6</text>
<text x="143.5" y="2456.7" font-size="54" text-anchor="end">5</text>
<text x="143.5" y="2547" font-size="54" text-anchor="end">4</text>
<text x="143.5" y="2637.3" font-size="54" text-anchor="end">3</text>
<text x="143.5" y="2727.6" font-size="54" text-anchor="end">2</text>
<text x="143.5" y="2817.9" font-size="54" text-anchor="end">1</text>
<text x="345.3" y="2877.5" font-size="52" text-anchor="middle" letter-spacing="0.25">Liver</text>
<text x="699.3" y="2877.5" font-size="52" text-anchor="middle" letter-spacing="0.25">Spleen</text>
<text x="1053.4" y="2877.5" font-size="52" text-anchor="middle" letter-spacing="0.25">Lung</text>
<text x="1407.6" y="2877.5" font-size="52" text-anchor="middle" letter-spacing="0.25">Lymph node</text>
<text x="70.5" y="2523" font-size="60.5" text-anchor="middle" transform="rotate(-90 70.5 2523)">CFU/g (log10)</text>
<text x="1766" y="2320.3" font-size="44.9" text-anchor="start" letter-spacing="0.02">Infection</text>
<text x="1766" y="2394.3" font-size="44.9" text-anchor="start" letter-spacing="0.02">20 mg/kg Amoxicillin</text>
<text x="1766" y="2466.6" font-size="44.9" text-anchor="start" letter-spacing="0.22">10 mg/kg Probenecid</text>
<text x="1766" y="2539.5" font-size="44.9" text-anchor="start" letter-spacing="0.17">20 mg/kg Probenecid</text>
<text x="1766" y="2612.3" font-size="44.9" text-anchor="start" letter-spacing="0.12">40 mg/kg Probenecid</text>
<text x="1766" y="2685.2" font-size="44.9" text-anchor="start" letter-spacing="0.32">Amoxicillin/Probenecid</text>
<text x="1766" y="2745" font-size="44.9" text-anchor="start" letter-spacing="0.02">100 mg/kg BA</text>
</g>
</svg></body></html>
